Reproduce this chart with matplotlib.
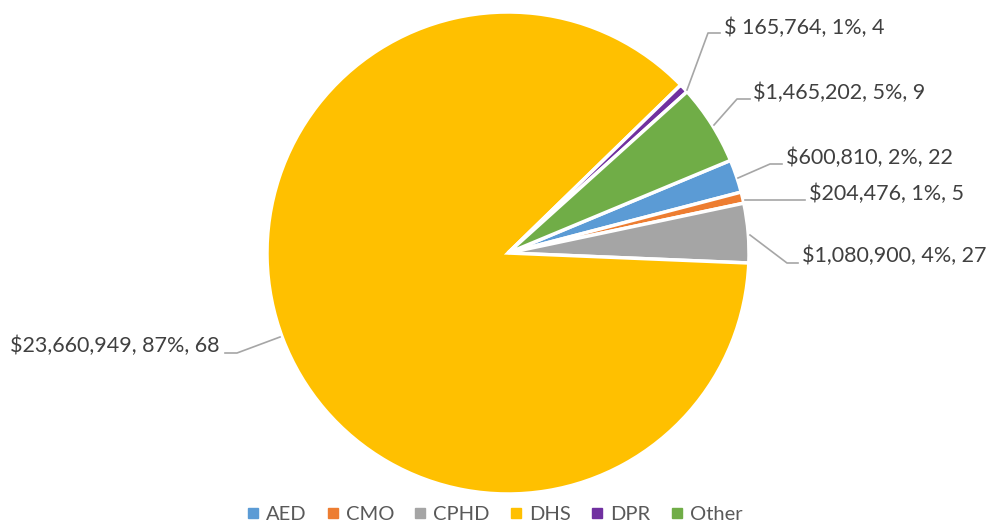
import matplotlib
matplotlib.use("Agg")
import matplotlib.pyplot as plt
from matplotlib.lines import Line2D

categories = ["AED", "CMO", "CPHD", "DHS", "DPR", "Other"]
amounts = [600810, 204476, 1080900, 23660949, 165764, 1465202]
labels = ["$600,810, 2%, 22", "$204,476, 1%, 5", "$1,080,900, 4%, 27",
          "$23,660,949, 87%, 68", "$ 165,764, 1%, 4", "$1,465,202, 5%, 9"]
colors = ["#5b9bd5", "#ed7d31", "#a5a5a5", "#ffc000", "#7030a0", "#70ad47"]

W, H = 989, 527
fig = plt.figure(figsize=(W / 100, H / 100), dpi=100)
ax = fig.add_axes([0, 0, 1, 1])

def Y(y):
    return H - y

cx, cy, r = 508, 253, 241
ax.pie(amounts, colors=colors, startangle=22.6, counterclock=False,
       center=(cx, Y(cy)), radius=r, frame=True,
       wedgeprops=dict(edgecolor="white", linewidth=2.5))
ax.set_xlim(0, W)
ax.set_ylim(0, H)
ax.set_aspect("equal")
ax.axis("off")

layout = {
    "DPR": ([(687, 90), (708, 33), (720, 33)], (724, 28), "left"),
    "Other": ([(714, 125), (737, 99), (750, 99)], (753, 93), "left"),
    "AED": ([(738, 178), (770, 164), (782, 164)], (786, 158), "left"),
    "CMO": ([(745, 200), (805, 200)], (809, 194), "left"),
    "CPHD": ([(750, 235), (787, 263), (798, 263)], (802, 256), "left"),
    "DHS": ([(280, 337), (237, 353), (225, 353)], (220, 346), "right"),
}
for cat, lab in zip(categories, labels):
    pts, (tx, ty), ha = layout[cat]
    ax.add_line(Line2D([p[0] for p in pts], [Y(p[1]) for p in pts],
                       color="#a6a6a6", linewidth=1.2))
    ax.text(tx, Y(ty), lab, ha=ha, va="center", fontsize=15.5,
            family="Lato", color="#404040")

handles = [Line2D([], [], marker="s", linestyle="none", markersize=6.5,
                  markerfacecolor=c, markeredgecolor=c) for c in colors]
leg = fig.legend(handles, categories, loc="center", ncol=6,
                 bbox_to_anchor=(0.5, 1 - 514 / H), frameon=False,
                 prop=dict(family="Lato", size=14.5),
                 handlelength=0.6, handletextpad=0.35, columnspacing=1.0,
                 borderpad=0.1)
for t in leg.get_texts():
    t.set_color("#595959")

fig.savefig("out.png", dpi=100)
